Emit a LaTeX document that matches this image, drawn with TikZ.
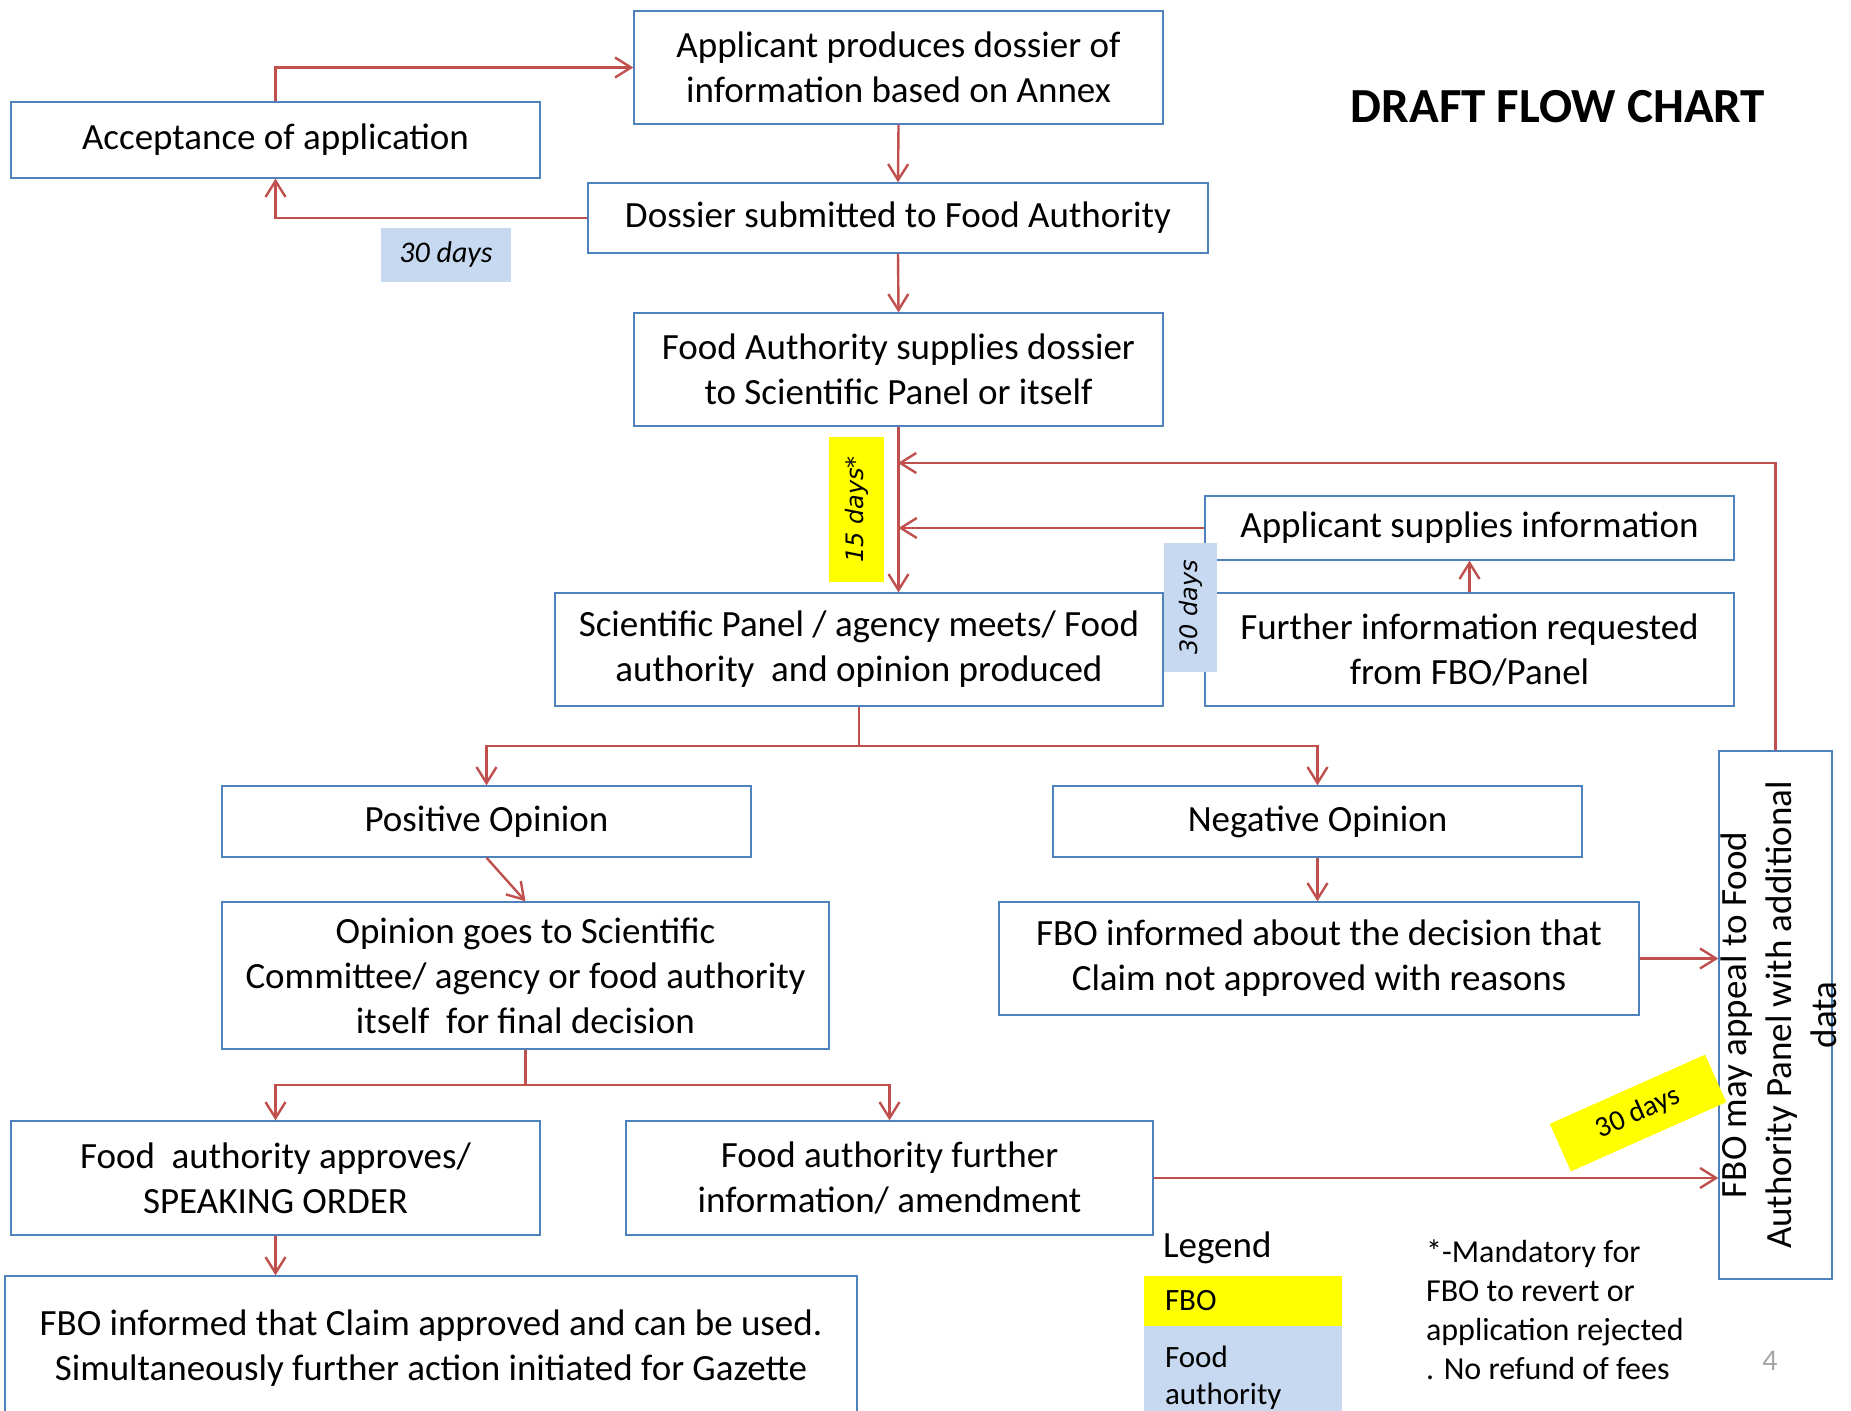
\documentclass[tikz,border=0pt]{standalone}
\usepackage{fontspec}
\setmainfont{Carlito}
\newfontfamily\verdfont{DejaVu Sans}
\usetikzlibrary{arrows.meta, backgrounds}
\definecolor{boxBlue}{RGB}{79,129,189}
\definecolor{flowRed}{RGB}{192,80,77}
\definecolor{tagBlue}{RGB}{198,217,241}
\definecolor{tagYellow}{RGB}{255,255,0}
\tikzset{
    >={Straight Barb[length=8pt,width=10pt]},
    % Shapes
    proc/.style={rectangle, draw=boxBlue, line width=0.7pt, fill=white, align=center, inner sep=2pt,
                 minimum width=264.5pt, minimum height=56.5pt, font=\fontsize{18.5}{22.5}\selectfont},
    tagB/.style={rectangle, fill=tagBlue, inner sep=0pt},
    tagY/.style={rectangle, fill=tagYellow, inner sep=0pt},
    dayFont/.style={font=\verdfont\itshape\fontsize{12}{14}\selectfont},
    % Flow
    flow/.style={->, line width=1.2pt, flowRed},
    line/.style={line width=1.2pt, flowRed}
}
\begin{document}
\begin{tikzpicture}[x=0.5pt, y=-0.5pt]
\path[use as bounding box] (0,0) rectangle (1851,1411);
\clip (0,0) rectangle (1851,1411);
\fill[white] (0,0) rectangle (1851,1411);

% boxes
\node[proc] (produce) at (898.5,67.5) {Applicant produces dossier of\\information based on Annex};
\node[proc, minimum height=38pt] (accept) at (275.5,140) {Acceptance of application};
\node[proc, minimum width=310pt, minimum height=35pt] (submit) at (898,218) {Dossier submitted to Food Authority};
\node[proc] (supply) at (898.5,369.5) {Food Authority supplies dossier\\to Scientific Panel or itself};
\node[proc, minimum height=32pt] (appsup) at (1469.5,528) {Applicant supplies information};
\node[proc, minimum width=304pt] (panel) at (859,649.5) {Scientific Panel / agency meets/ Food\\authority\ \ and opinion produced};
\node[proc] (further) at (1469.5,649.5) {Further information requested\\from FBO/Panel};
\node[proc, minimum height=35.5pt] (pos) at (486.5,821.5) {Positive Opinion};
\node[proc, minimum height=35.5pt] (neg) at (1317.5,821.5) {Negative Opinion};
\node[proc, minimum width=303.5pt, minimum height=73.5pt] (goes) at (525.5,975.5) {Opinion goes to Scientific\\Committee/ agency or food authority\\itself\ \ for final decision};
\node[proc, minimum width=320pt] (fboinf) at (1319,958.5) {FBO informed about the decision that\\Claim not approved with reasons};
\node[proc, minimum width=56.5pt, minimum height=264pt] (appeal) at (1775.5,1015) {};
\node[rotate=90, align=center, font=\fontsize{18.5}{22.5}\selectfont] (appealtxt) at (1779,1015) {FBO may appeal to Food\\Authority Panel with additional\\data};
\node[proc, minimum height=57pt] (approve) at (275.5,1178) {Food\ \ authority approves/\\SPEAKING ORDER};
\node[proc, minimum width=263.5pt, minimum height=57pt] (amend) at (889.5,1178) {Food authority further\\information/ amendment};
\node[proc, minimum width=426pt, minimum height=72pt] (gazette) at (431,1348) {FBO informed that Claim approved and can be used.\\Simultaneously further action initiated for Gazette};

\node[font=\fontsize{24.5}{30}\selectfont\bfseries] (title) at (1558,107) {DRAFT FLOW CHART};

% connectors
\draw[flow] (accept.north) |- (produce.west);
\draw[flow] (submit.west) -| (accept.south);
\draw[flow] (produce.south) -- (submit.north);
\draw[flow] (submit.south) -- (supply.north);
\draw[flow] (supply.south) -- (supply.south |- panel.north);
\draw[flow] (appsup.west) -- (supply.south |- appsup.west);
\coordinate (back) at (898,463);
\draw[flow] (appeal.north) |- (back);
\draw[flow] (further.north) -- (appsup.south);

\coordinate (split1) at (859,746);
\draw[line] (panel.south) -- (split1);
\draw[flow] (split1) -| (pos.north);
\draw[flow] (split1) -| (neg.north);
\draw[flow] (pos.south) -- (goes.north);
\draw[flow] (neg.south) -- (neg.south |- fboinf.north);
\draw[flow] (fboinf.east) -- (appeal.west |- fboinf.east);

\coordinate (split2) at (525.5,1085);
\draw[line] (goes.south) -- (split2);
\draw[flow] (split2) -| (approve.north);
\draw[flow] (split2) -| (amend.north);
\draw[flow] (amend.east) -- (appeal.west |- amend.east);
\draw[flow] (approve.south) -- (approve.south |- gazette.north);

\coordinate (retry) at (1613,1178);
\begin{scope}[on background layer]
\draw[flow] (retry) -- (retry |- further.south);
\end{scope}

% time tags
\node[tagB, minimum width=65pt, minimum height=27pt, font=\fontsize{15}{17}\selectfont\itshape] (wait30a) at (446,255) {30 days};
\node[tagY, rotate=90, minimum width=72.5pt, minimum height=27.5pt, dayFont] (wait15) at (856.5,509.5) {15 days*};
\node[tagB, rotate=90, minimum width=64.5pt, minimum height=26.5pt, dayFont] (wait30b) at (1190.5,607.5) {30 days};
\node[tagY, rotate=24, minimum width=85pt, minimum height=26pt, font=\fontsize{14.5}{16}\selectfont] (wait30c) at (1638,1113) {30 days};

% legend
\node[anchor=west, font=\fontsize{18.5}{22}\selectfont] (legend) at (1156,1248) {Legend};
\node[tagY, minimum width=99pt, minimum height=25pt, inner xsep=10.5pt, text width=78pt, align=left,
      font=\fontsize{15.5}{18.5}\selectfont] (legFBO) at (1243,1301) {FBO};
\node[tagB, minimum width=99pt, minimum height=52pt, inner xsep=10.5pt, text width=78pt, align=left,
      font=\fontsize{15.5}{18.5}\selectfont] (legFA) at (1243,1378) {Food\\authority};
\node[anchor=west, align=left, font=\fontsize{16}{19.5}\selectfont] (note) at (1419,1310)
     {*-Mandatory for\\FBO to revert or\\application rejected\\. No refund of fees};
\node[text=gray!70, font=\fontsize{15}{16}\selectfont] (pageno) at (1770,1361) {4};

\end{tikzpicture}
\end{document}
